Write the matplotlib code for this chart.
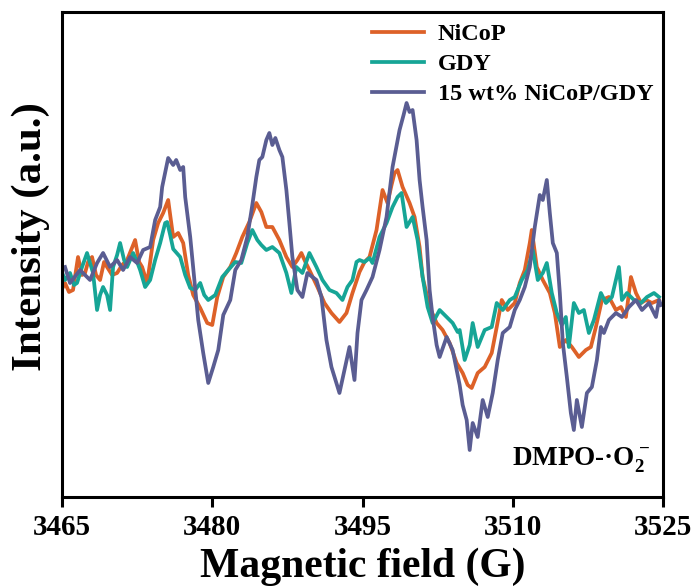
import matplotlib
matplotlib.use("Agg")
import matplotlib.pyplot as plt

plt.rcParams["font.family"] = ["Liberation Serif", "DejaVu Serif"]
plt.rcParams["font.weight"] = "bold"
plt.rcParams["mathtext.fontset"] = "custom"
plt.rcParams["mathtext.rm"] = "Liberation Serif:bold"
plt.rcParams["mathtext.bf"] = "Liberation Serif:bold"

# EPR spectra (field in G, intensity in a.u.)
field_gdy_nicop = [
    3465.3, 3465.8, 3466.8, 3467.8, 3468.5, 3469.1, 3469.8, 3470.5, 3471.1, 3471.8,
    3472.5, 3473.1, 3473.8, 3474.3, 3474.8, 3475.0, 3475.6, 3476.1, 3476.4, 3476.8,
    3477.1, 3477.3, 3477.8, 3478.1, 3478.6, 3479.1, 3479.6, 3480.1, 3480.6, 3481.1,
    3481.8, 3482.3, 3482.9, 3483.5, 3484.0, 3484.4, 3484.7, 3485.0, 3485.4, 3485.7,
    3486.0, 3486.3, 3486.7, 3487.0, 3487.4, 3487.7, 3488.0, 3488.5, 3489.0, 3489.5,
    3490.0, 3490.4, 3490.9, 3491.4, 3491.9, 3492.3, 3492.7, 3493.2, 3493.7, 3494.2,
    3494.5, 3494.9, 3495.4, 3496.0, 3496.7, 3497.4, 3498.0, 3498.7, 3499.1, 3499.4,
    3499.7, 3500.0, 3500.4, 3500.7, 3501.0, 3501.4, 3501.7, 3502.0, 3502.4, 3502.7,
    3503.4, 3504.0, 3504.7, 3505.0, 3505.4, 3505.7, 3506.0, 3506.5, 3507.0, 3507.5,
    3508.0, 3508.5, 3509.0, 3509.7, 3510.2, 3510.7, 3511.2, 3511.7, 3512.2, 3512.7,
    3513.0, 3513.4, 3513.7, 3514.0, 3514.4, 3514.7, 3515.0, 3515.4, 3515.8, 3516.1,
    3516.4, 3516.9, 3517.4, 3517.9, 3518.4, 3518.8, 3519.1, 3519.6, 3520.3, 3520.9,
    3521.6, 3522.3, 3522.9, 3523.6, 3524.3, 3524.6, 3524.8,
]
int_gdy_nicop = [
    13, -3, 10, 0, 17, 27, 13, 20, 10, 23,
    17, 30, 33, 60, 73, 93, 122, 115, 120, 110,
    113, 83, 43, 12, -40, -73, -103, -87, -70, -35,
    -20, 10, 20, 43, 75, 103, 120, 123, 140, 147,
    135, 142, 130, 123, 90, 57, 23, -10, -17, 7,
    3, 0, -17, -60, -87, -100, -113, -90, -67, -100,
    -53, -20, -10, 3, 30, 63, 113, 150, 165, 177,
    168, 170, 140, 100, 73, 40, -10, -37, -65, -77,
    -57, -70, -105, -125, -140, -170, -143, -157, -120, -137,
    -113, -80, -53, -47, -30, -20, -7, 13, 53, 85,
    80, 100, 67, 37, 27, -13, -63, -97, -133, -150,
    -120, -147, -113, -107, -80, -47, -53, -40, -33, -37,
    -27, -20, -30, -23, -37, -20, -25,
]

field_nicop = [
    3465.1, 3465.3, 3465.7, 3466.1, 3466.6, 3467.0, 3467.3, 3467.6, 3468.0, 3468.4,
    3468.8, 3469.2, 3469.5, 3470.0, 3470.5, 3471.0, 3471.5, 3471.9, 3472.3, 3472.7,
    3473.0, 3473.5, 3473.8, 3474.1, 3474.6, 3475.1, 3475.6, 3475.8, 3476.1, 3476.6,
    3477.1, 3477.6, 3478.1, 3478.8, 3479.5, 3480.0, 3480.5, 3481.1, 3481.8, 3482.4,
    3483.0, 3483.7, 3484.4, 3484.9, 3485.4, 3486.0, 3486.7, 3487.4, 3488.0, 3488.5,
    3488.9, 3489.3, 3489.7, 3490.5, 3491.2, 3491.9, 3492.7, 3493.4, 3494.0, 3494.7,
    3495.2, 3495.7, 3496.4, 3496.7, 3497.0, 3497.5, 3497.9, 3498.2, 3498.5, 3499.0,
    3499.7, 3500.2, 3500.7, 3501.0, 3501.7, 3502.4, 3503.0, 3503.7, 3504.4, 3505.0,
    3505.5, 3505.9, 3506.5, 3507.2, 3507.9, 3508.4, 3508.9, 3509.5, 3510.2, 3510.7,
    3511.2, 3511.7, 3511.9, 3512.4, 3513.0, 3513.7, 3514.2, 3514.7, 3515.3, 3515.9,
    3516.6, 3517.3, 3517.8, 3518.3, 3518.9, 3519.6, 3520.3, 3520.8, 3521.3, 3521.8,
    3522.3, 3522.8, 3523.3, 3523.9, 3524.6,
]
int_nicop = [
    -7, -3, -12, -10, 23, 5, 7, 18, 23, 5,
    0, 18, 13, 5, 7, 15, 20, 30, 40, 18,
    13, -3, 18, 40, 57, 67, 80, 65, 43, 47,
    37, 5, -15, -28, -43, -45, -17, 3, 13, 27,
    43, 58, 77, 68, 53, 53, 40, 23, 13, 20,
    27, 18, 10, -7, -23, -33, -42, -33, -13, 8,
    18, 23, 50, 70, 90, 77, 95, 107, 110, 93,
    77, 63, 33, 3, -27, -43, -50, -63, -83, -93,
    -105, -108, -93, -87, -73, -47, -20, -30, -23, -3,
    10, 37, 50, 13, 0, -13, -33, -67, -60, -67,
    -77, -70, -67, -47, -20, -17, -30, -27, -37, 3,
    -13, -23, -20, -23, -20,
]

field_gdy = [
    3465.1, 3465.3, 3465.8, 3466.2, 3466.5, 3467.0, 3467.5, 3468.1, 3468.5, 3468.8,
    3469.1, 3469.5, 3469.8, 3470.1, 3470.5, 3470.8, 3471.2, 3471.5, 3472.1, 3472.5,
    3472.8, 3473.3, 3473.8, 3474.3, 3474.8, 3475.3, 3475.5, 3475.8, 3476.1, 3476.8,
    3477.3, 3477.8, 3478.3, 3478.8, 3479.2, 3479.6, 3480.3, 3481.0, 3481.6, 3482.3,
    3482.9, 3483.5, 3484.0, 3484.5, 3484.9, 3485.4, 3486.0, 3486.7, 3487.4, 3487.9,
    3488.4, 3489.0, 3489.7, 3490.4, 3491.0, 3491.7, 3492.4, 3493.0, 3493.5, 3494.0,
    3494.4, 3494.7, 3495.2, 3495.7, 3496.0, 3496.7, 3497.4, 3498.0, 3498.5, 3498.9,
    3499.4, 3500.0, 3500.5, 3501.0, 3501.5, 3502.0, 3502.7, 3503.4, 3504.0, 3504.5,
    3504.7, 3505.2, 3505.7, 3506.0, 3506.5, 3507.2, 3507.9, 3508.4, 3509.0, 3509.7,
    3510.2, 3510.9, 3511.5, 3512.0, 3512.5, 3513.0, 3513.4, 3513.9, 3514.4, 3514.9,
    3515.3, 3515.6, 3516.1, 3516.6, 3517.1, 3517.6, 3518.1, 3518.8, 3519.3, 3519.9,
    3520.6, 3520.9, 3521.4, 3522.1, 3522.8, 3523.4, 3524.1, 3524.6,
]
int_gdy = [
    5, 0, 7, -5, -3, 13, 27, 7, -30, -15,
    -7, -15, -30, 13, 25, 37, 20, 13, 27, 18,
    10, -7, 0, 20, 37, 57, 58, 45, 31, 23,
    5, -8, -10, -3, -15, -20, -15, 3, 10, 18,
    17, 37, 50, 40, 35, 30, 33, 27, 7, -13,
    13, 7, 27, 13, 0, -10, -13, -20, -7, 0,
    18, 20, 18, 22, 17, 43, 57, 73, 83, 87,
    53, 63, 40, 3, -27, -43, -30, -37, -43, -52,
    -50, -80, -65, -43, -67, -50, -47, -23, -30, -20,
    -17, 0, 10, 30, 0, 7, 17, -13, -33, -45,
    -37, -67, -23, -33, -30, -53, -40, -13, -23, -17,
    13, -20, -13, -20, -23, -17, -13, -17,
]

labels = ["NiCoP", "GDY", "15 wt% NiCoP/GDY"]
colors = ["#DD6128", "#16A596", "#5A5D92"]
x_ticks = [3465, 3480, 3495, 3510, 3525]

fig = plt.figure(figsize=(6.97, 5.87), dpi=100)
ax = fig.add_axes([62 / 697, 1 - 497 / 587, 601 / 697, 485 / 587])

ax.plot(field_nicop, int_nicop, color=colors[0], lw=2.7, label=labels[0])
ax.plot(field_gdy, int_gdy, color=colors[1], lw=2.7, label=labels[1])
ax.plot(field_gdy_nicop, int_gdy_nicop, color=colors[2], lw=2.7, label=labels[2])

ax.set_xlim(3465, 3525)
ax.set_ylim(-217, 268)
ax.set_xticks(x_ticks)
ax.set_yticks([])
ax.tick_params(axis="x", direction="out", length=7, width=2.2, pad=5,
               labelsize=21)
for lab in ax.get_xticklabels():
    lab.set_fontweight("bold")
for sp in ax.spines.values():
    sp.set_linewidth(2.2)

ax.set_xlabel("Magnetic field (G)", fontsize=30, fontweight="bold", labelpad=5)
ax.set_ylabel("Intensity (a.u.)", fontsize=31, fontweight="bold")
ax.yaxis.set_label_coords(-0.02, 0.538)

ax.legend(loc="upper left", bbox_to_anchor=(372 / 697, 1 - 23 / 587),
          bbox_transform=fig.transFigure, frameon=False,
          handlelength=2.15, handletextpad=0.55, labelspacing=0.33,
          borderpad=0, borderaxespad=0,
          prop={"weight": "bold", "size": 17.5})

ax.text(0.978, 0.065, "DMPO-·O$_2^-$", transform=ax.transAxes,
        ha="right", va="baseline", fontsize=19.5, fontweight="bold")

fig.savefig("out.png", dpi=100)
